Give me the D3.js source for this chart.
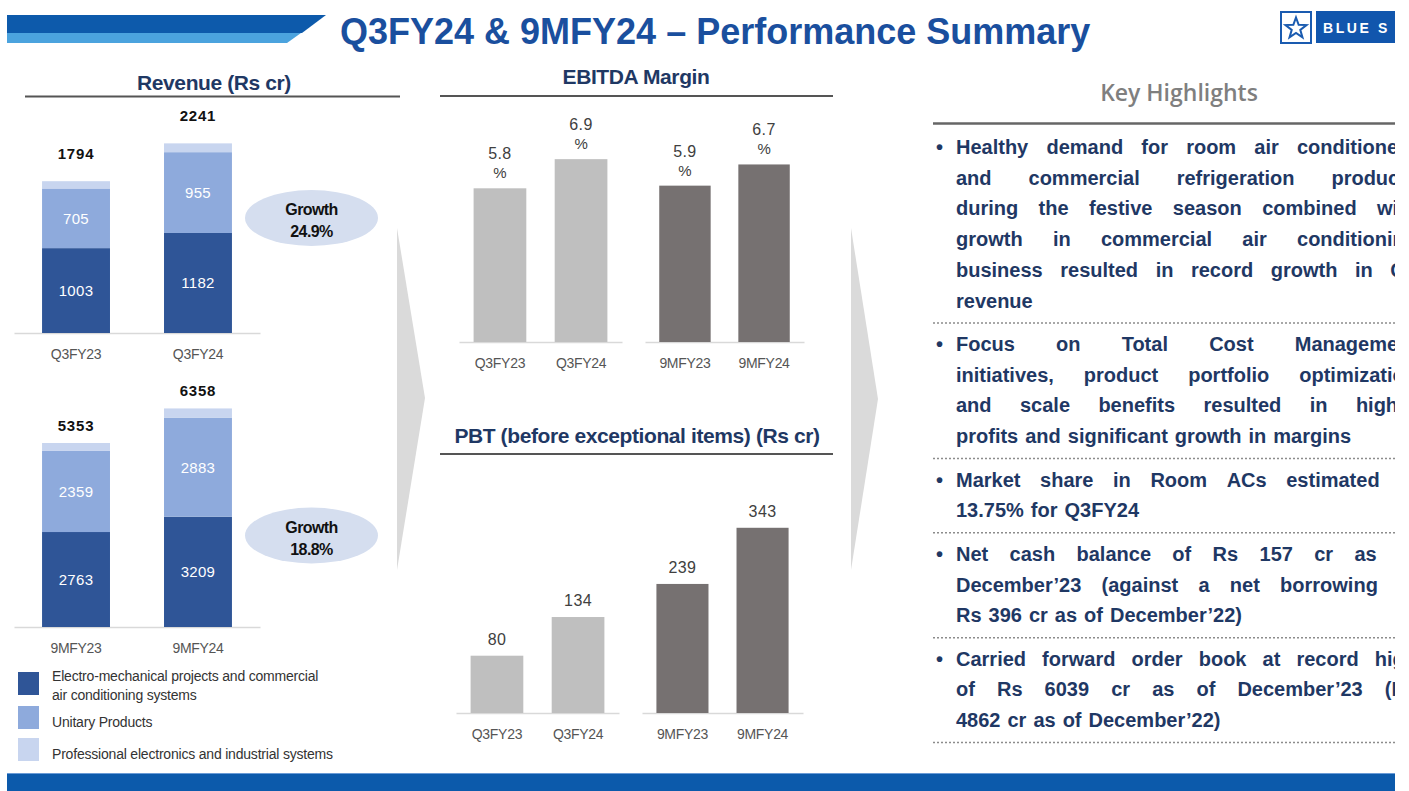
<!DOCTYPE html>
<html>
<head>
<meta charset="utf-8">
<script src="https://cdn.jsdelivr.net/npm/d3@7"></script>
<style>
body { margin: 0; background: #fff; }
text { font-family: "Liberation Sans", Arial, sans-serif; }
</style>
</head>
<body>
<script>
// ---- data ----
var quarterPeriods = ["Q3FY23", "Q3FY24"];
var ninePeriods = ["9MFY23", "9MFY24"];
var revEmpQ = [1003, 1182];
var revUpQ = [705, 955];
var revTotalQ = [1794, 2241];
var revEmp9M = [2763, 3209];
var revUp9M = [2359, 2883];
var revTotal9M = [5353, 6358];
var growthQ = "24.9%";
var growth9M = "18.8%";
var segmentLabels = [
  ["Electro-mechanical projects and commercial", "air conditioning systems"],
  ["Unitary Products"],
  ["Professional electronics and industrial systems"]
];
var ebitdaQ = [5.8, 6.9];
var ebitda9M = [5.9, 6.7];
var pbtQ = [80, 134];
var pbt9M = [239, 343];
var highlights = [
  ["Healthy demand for room air conditioners", "and commercial refrigeration products", "during the festive season combined with", "growth in commercial air conditioning", "business resulted in record growth in Q3", "revenue"],
  ["Focus on Total Cost Management", "initiatives, product portfolio optimization", "and scale benefits resulted in higher", "profits and significant growth in margins"],
  ["Market share in Room ACs estimated at", "13.75% for Q3FY24"],
  ["Net cash balance of Rs 157 cr as of", "December\u201923 (against a net borrowing of", "Rs 396 cr as of December\u201922)"],
  ["Carried forward order book at record high", "of Rs 6039 cr as of December\u201923 (Rs", "4862 cr as of December\u201922)"]
];

var segColors = ["#2f5597", "#8eaadc", "#c8d5ef"];
var navy = "#1f3864";

var svg = d3.select("body").append("svg")
  .attr("width", 1409)
  .attr("height", 791);

// ---- header ----
svg.append("polygon").attr("points", "7,15 326,15 302,33 7,33").attr("fill", "#0d5aab");
svg.append("polygon").attr("points", "7,33 301,33 287,43 7,43").attr("fill", "#4ba3de");
svg.append("text")
  .attr("x", 340).attr("y", 44)
  .style("font-size", "36px").style("font-weight", "bold")
  .attr("fill", "#1a4f9e")
  .text("Q3FY24 & 9MFY24 \u2013 Performance Summary");

// logo
svg.append("rect").attr("x", 1281).attr("y", 12).attr("width", 30).attr("height", 31)
  .attr("fill", "#fff").attr("stroke", "#1a5bb0").attr("stroke-width", 2);
var starPts = d3.range(10).map(function(i) {
  var r = i % 2 ? 4.5 : 11;
  var a = -Math.PI / 2 + i * Math.PI / 5;
  return [1296 + r * Math.cos(a), 28.5 + r * Math.sin(a)];
});
svg.append("polygon").attr("points", starPts.join(" "))
  .attr("fill", "none").attr("stroke", "#1a5bb0").attr("stroke-width", 2);
svg.append("rect").attr("x", 1316).attr("y", 11).attr("width", 79).attr("height", 32).attr("fill", "#1156ad");
svg.append("text").attr("x", 1323).attr("y", 33)
  .style("font-size", "14px").style("font-weight", "bold").style("letter-spacing", "2.6px")
  .attr("fill", "#fff").text("BLUE S");

// ---- section headings ----
function heading(txt, cx, y, lineY, x1, x2) {
  svg.append("text").attr("x", cx).attr("y", y).attr("text-anchor", "middle")
    .style("font-size", "21px").style("font-weight", "bold").style("letter-spacing", "-0.4px")
    .attr("fill", navy).text(txt);
  svg.append("line").attr("x1", x1).attr("x2", x2).attr("y1", lineY).attr("y2", lineY)
    .attr("stroke", "#555").attr("stroke-width", 2);
}
heading("Revenue (Rs cr)", 214, 90, 96.5, 25, 400);
heading("EBITDA Margin", 636, 84, 96, 440, 833);
heading("PBT (before exceptional items) (Rs cr)", 637, 443, 454, 440, 833);

// arrows
svg.append("polygon").attr("points", "397,228 425,398 397,570").attr("fill", "#dadada");
svg.append("polygon").attr("points", "851,228 878,399 851,570").attr("fill", "#dadada");

function styleAxis(g) {
  g.select(".domain").attr("stroke", "#d9d9d9").attr("stroke-width", 1.5);
  g.selectAll(".tick text")
    .style("font-size", "14px")
    .style("font-family", "'Liberation Sans', Arial, sans-serif")
    .style("letter-spacing", "-0.3px")
    .attr("fill", "#555");
}

// ---- revenue stacked bars ----
function revenueChart(periods, emp, up, total, base, maxV, totalOff, growth, ecy) {
  var x = d3.scaleBand().domain(periods).range([14, 260]).paddingInner(0.443).paddingOuter(0.23);
  var y = d3.scaleLinear().domain([0, maxV]).range([base, base - 220]);
  var rows = periods.map(function(p, i) {
    return { period: p, emp: emp[i], up: up[i], pes: total[i] - emp[i] - up[i] };
  });
  var series = d3.stack().keys(["emp", "up", "pes"])(rows);
  var g = svg.append("g");
  g.append("g").attr("transform", "translate(0," + base + ")")
    .call(d3.axisBottom(x).tickSize(0).tickSizeOuter(0).tickPadding(16))
    .call(styleAxis);
  series.forEach(function(s, k) {
    g.selectAll(null).data(s).enter().append("rect")
      .attr("x", function(d) { return x(d.data.period); })
      .attr("width", x.bandwidth())
      .attr("y", function(d) { return y(d[1]); })
      .attr("height", function(d) { return y(d[0]) - y(d[1]); })
      .attr("fill", segColors[k]);
    if (k < 2) {
      g.selectAll(null).data(s).enter().append("text")
        .attr("x", function(d) { return x(d.data.period) + x.bandwidth() / 2; })
        .attr("y", function(d) { return (y(d[0]) + y(d[1])) / 2 + 5.5; })
        .attr("text-anchor", "middle")
        .style("font-size", "15px").style("letter-spacing", "0.3px")
        .attr("fill", "#fff")
        .text(function(d) { return d.data[s.key]; });
    }
  });
  g.selectAll(null).data(rows).enter().append("text")
    .attr("x", function(d) { return x(d.period) + x.bandwidth() / 2; })
    .attr("y", function(d, i) { return y(total[i]) - totalOff; })
    .attr("text-anchor", "middle")
    .style("font-size", "15px").style("font-weight", "bold").style("letter-spacing", "0.8px")
    .attr("fill", "#111")
    .text(function(d, i) { return total[i]; });
  g.append("ellipse").attr("cx", 311.5).attr("cy", ecy).attr("rx", 66.5).attr("ry", 28)
    .attr("fill", "#d5deef");
  g.append("text").attr("x", 311.5).attr("y", ecy - 3).attr("text-anchor", "middle")
    .style("font-size", "16px").style("font-weight", "bold").style("letter-spacing", "-0.6px")
    .attr("fill", "#111").text("Growth");
  g.append("text").attr("x", 311.5).attr("y", ecy + 19).attr("text-anchor", "middle")
    .style("font-size", "16px").style("font-weight", "bold").style("letter-spacing", "-0.6px")
    .attr("fill", "#111").text(growth);
}
revenueChart(quarterPeriods, revEmpQ, revUpQ, revTotalQ, 333, 2600, 22, growthQ, 218);
revenueChart(ninePeriods, revEmp9M, revUp9M, revTotal9M, 627, 6400, 12, growth9M, 535.5);

// legend
var leg = svg.append("g");
var legY = [672, 706, 738];
segmentLabels.forEach(function(lines, i) {
  leg.append("rect").attr("x", 18).attr("y", legY[i]).attr("width", 21).attr("height", 23)
    .attr("fill", segColors[i]);
  lines.forEach(function(t, j) {
    leg.append("text").attr("x", 52).attr("y", legY[i] + 9 + (lines.length > 1 ? j * 19 : 12))
      .style("font-size", "14px").style("letter-spacing", "-0.2px")
      .attr("fill", "#333").text(t);
  });
});

// ---- simple bar pairs (EBITDA / PBT) ----
function barPair(periods, values, color, range, base, maxV, h, fmtPct) {
  var x = d3.scaleBand().domain(periods).range(range).paddingInner(0.35).paddingOuter(0.18);
  var y = d3.scaleLinear().domain([0, maxV]).range([base, base - h]);
  var g = svg.append("g");
  g.append("g").attr("transform", "translate(0," + base + ")")
    .call(d3.axisBottom(x).tickSize(0).tickSizeOuter(0).tickPadding(16))
    .call(styleAxis);
  g.selectAll(null).data(values).enter().append("rect")
    .attr("x", function(d, i) { return x(periods[i]); })
    .attr("width", x.bandwidth())
    .attr("y", function(d) { return y(d); })
    .attr("height", function(d) { return base - y(d); })
    .attr("fill", color);
  var lab = g.selectAll(null).data(values).enter().append("text")
    .attr("x", function(d, i) { return x(periods[i]) + x.bandwidth() / 2; })
    .attr("text-anchor", "middle")
    .style("font-size", "16px").style("letter-spacing", "0.4px")
    .attr("fill", "#404040");
  if (fmtPct) {
    lab.attr("y", function(d) { return y(d) - 29; }).text(function(d) { return d.toFixed(1); });
    g.selectAll(null).data(values).enter().append("text")
      .attr("x", function(d, i) { return x(periods[i]) + x.bandwidth() / 2; })
      .attr("y", function(d) { return y(d) - 10; })
      .attr("text-anchor", "middle")
      .style("font-size", "15px")
      .attr("fill", "#404040").text("%");
  } else {
    lab.attr("y", function(d) { return y(d) - 11; }).text(function(d) { return d; });
  }
}
barPair(quarterPeriods, ebitdaQ, "#bfbfbf", [459, 622], 342, 8, 212, true);
barPair(ninePeriods, ebitda9M, "#767171", [645, 804], 342, 8, 212, true);
barPair(quarterPeriods, pbtQ, "#bfbfbf", [456, 619], 713, 160, 114.6, false);
barPair(ninePeriods, pbt9M, "#767171", [642, 803], 713, 400, 216, false);

// ---- key highlights ----
svg.append("text").attr("x", 1179).attr("y", 101).attr("text-anchor", "middle")
  .style("font-family", "'Open Sans', sans-serif").style("font-size", "23px").style("font-weight", 600)
  .attr("fill", "#7f7f7f").text("Key Highlights");
svg.append("line").attr("x1", 933).attr("x2", 1395).attr("y1", 123.5).attr("y2", 123.5)
  .attr("stroke", "#666").attr("stroke-width", 2.5);

// the slide is cut at the right edge, so the text box is clipped there
svg.append("clipPath").attr("id", "kclip").append("rect")
  .attr("x", 900).attr("y", 100).attr("width", 495).attr("height", 680);
var kh = svg.append("g").attr("clip-path", "url(#kclip)")
  .style("font-family", "'DejaVu Sans', sans-serif").style("font-size", "20px").style("font-weight", "bold")
  .attr("fill", navy);

var textX0 = 956, textX1 = 1417, lineStep = 30.7;
var yy = 154;
highlights.forEach(function(para) {
  kh.append("text").attr("x", 936).attr("y", yy).text("\u2022");
  para.forEach(function(line, li) {
    var words = line.split(" ");
    var ts = words.map(function(w) { return kh.append("text").attr("y", yy).text(w); });
    var ws = ts.map(function(t) { return t.node().getComputedTextLength(); });
    var last = li === para.length - 1;
    var gap = (!last && words.length > 1) ? (textX1 - textX0 - d3.sum(ws)) / (words.length - 1) : 7;
    var xx = textX0;
    ts.forEach(function(t, i) { t.attr("x", xx); xx += ws[i] + gap; });
    if (!last) yy += lineStep;
  });
  var sepY = yy + 15.5;
  svg.append("line").attr("x1", 933).attr("x2", 1395).attr("y1", sepY).attr("y2", sepY)
    .attr("stroke", "#8c8c8c").attr("stroke-width", 1.5).attr("stroke-dasharray", "2,2");
  yy = sepY + 28;
});

// ---- footer ----
svg.append("rect").attr("x", 7).attr("y", 773).attr("width", 1388).attr("height", 18).attr("fill", "#0c5aab");
svg.append("line").attr("x1", 7).attr("x2", 1395).attr("y1", 773.5).attr("y2", 773.5)
  .attr("stroke", "#6a9bd6").attr("stroke-width", 1);
</script>
</body>
</html>
